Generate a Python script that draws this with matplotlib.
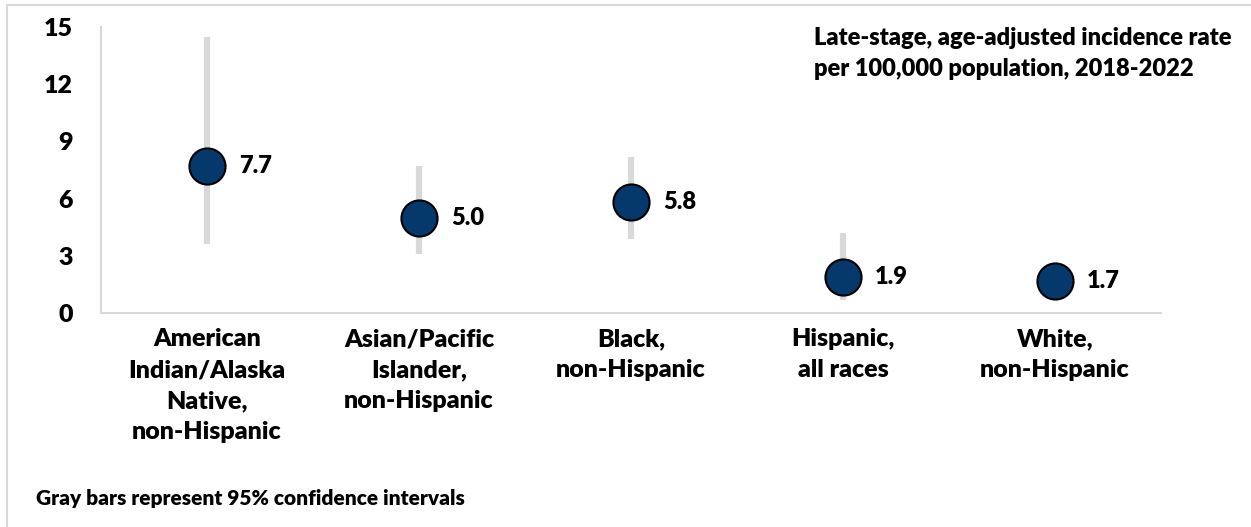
import matplotlib.pyplot as plt
from matplotlib.lines import Line2D

plt.rcParams['font.family'] = ['Lato', 'DejaVu Sans']
plt.rcParams['font.weight'] = 'heavy'

# Data
groups = ['American\nIndian/Alaska\nNative,\nnon-Hispanic',
          'Asian/Pacific\nIslander,\nnon-Hispanic',
          'Black,\nnon-Hispanic',
          'Hispanic,\nall races',
          'White,\nnon-Hispanic']
rates = [7.7, 5.0, 5.8, 1.9, 1.7]
ci_low = [3.6, 3.1, 3.9, 0.7, 1.2]
ci_high = [14.5, 7.7, 8.2, 4.2, 2.3]
y_ticks = [0, 3, 6, 9, 12, 15]

fig = plt.figure(figsize=(12.51, 5.27), dpi=100)
ax = fig.add_axes([101 / 1251, 1 - 313 / 527, 1060 / 1251, 286 / 527])

x = list(range(len(groups)))

# Gray confidence bars
ax.vlines(x, ci_low, ci_high, color='#d9d9d9', linewidth=4.5, zorder=1)

# Points
ax.plot(x, rates, linestyle='none', marker='o', markersize=26,
        markerfacecolor='#06396b', markeredgecolor='black',
        markeredgewidth=1.5, zorder=3)

# Value labels
for xi, r in zip(x, rates):
    ax.annotate('{:.1f}'.format(r), (xi, r), xytext=(23, 0),
                textcoords='offset points', va='center', ha='left',
                fontsize=17, fontweight='heavy')

ax.set_xlim(-0.5, len(groups) - 0.5)
ax.set_ylim(0, 15)
ax.set_yticks(y_ticks)
ax.set_xticks(x)
ax.set_xticklabels(groups, fontsize=18, fontweight='heavy', linespacing=1.5)
ax.tick_params(axis='y', length=0, pad=20, labelsize=18)
ax.tick_params(axis='x', length=0, pad=11)

for s in ['top', 'right']:
    ax.spines[s].set_visible(False)
for s in ['left', 'bottom']:
    ax.spines[s].set_color('#d9d9d9')
    ax.spines[s].set_linewidth(1.5)

# Chart note in upper right
fig.text(814 / 1251, 1 - 27 / 527,
         'Late-stage, age-adjusted incidence rate\nper 100,000 population, 2018-2022',
         ha='left', va='top', fontsize=17, fontweight='heavy', linespacing=1.5)

# Footnote
fig.text(36 / 1251, 1 - 505 / 527, 'Gray bars represent 95% confidence intervals',
         ha='left', va='baseline', fontsize=15, fontweight='heavy')

# Light border on the left and top
fig.add_artist(Line2D([7 / 1251, 7 / 1251], [0, 1 - 5 / 527],
                      transform=fig.transFigure, color='#d9d9d9', linewidth=1.5))
fig.add_artist(Line2D([7 / 1251, 1], [1 - 5 / 527, 1 - 5 / 527],
                      transform=fig.transFigure, color='#d9d9d9', linewidth=1.5))

fig.savefig('out.png', dpi=100)
